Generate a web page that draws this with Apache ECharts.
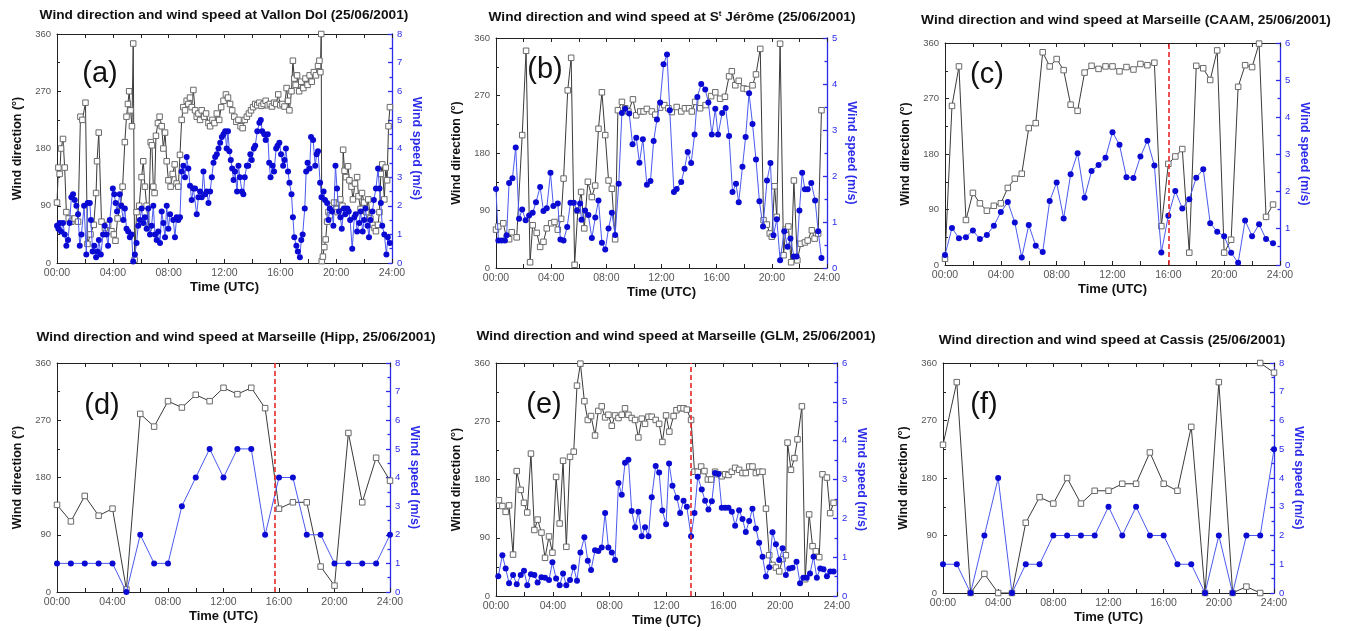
<!DOCTYPE html>
<html><head><meta charset="utf-8">
<script src="https://cdn.jsdelivr.net/npm/echarts@6/dist/echarts.min.js"></script>
<style>html,body{margin:0;padding:0;background:#fff}#c{width:1345px;height:631px}</style>
</head><body><div id="c"></div>
<script>
// ---------------- DATA (time in hours UTC, direction in degrees, speed in m/s) ----------------
const xTickLabels = ['00:00','04:00','08:00','12:00','16:00','20:00','24:00'];

const aDir = [[0,95],[0.1,150],[0.19,140],[0.29,180],[0.43,195],[0.55,150],[0.67,80],[0.84,70],[1.03,65],[1.27,70],[1.51,65],[1.68,230],[1.82,225],[2.04,252],[2.18,30],[2.4,45],[2.63,60],[2.8,110],[2.87,160],[2.99,205],[3.19,65],[3.43,55],[3.66,60],[3.9,50],[4.07,45],[4.19,35],[4.34,70],[4.55,90],[4.7,120],[4.86,190],[4.98,230],[5.08,250],[5.17,270],[5.27,240],[5.37,215],[5.46,345],[5.56,5],[5.7,80],[5.89,90],[6.06,135],[6.18,160],[6.3,120],[6.42,90],[6.56,55],[6.71,190],[6.8,185],[6.9,120],[6.99,110],[7.09,200],[7.23,220],[7.35,230],[7.5,215],[7.62,180],[7.74,205],[7.86,160],[7.98,130],[8.14,120],[8.29,140],[8.43,155],[8.57,125],[8.69,120],[8.81,170],[8.93,225],[9.05,245],[9.17,240],[9.29,255],[9.41,250],[9.53,260],[9.65,245],[9.77,272],[9.89,240],[10.01,230],[10.13,235],[10.25,225],[10.37,240],[10.54,230],[10.68,235],[10.85,220],[10.97,215],[11.14,225],[11.28,220],[11.45,235],[11.62,225],[11.76,245],[11.93,255],[12.1,265],[12.25,260],[12.4,250],[12.55,240],[12.7,230],[12.85,222],[13.0,225],[13.15,215],[13.3,212],[13.45,225],[13.6,230],[13.75,235],[13.9,240],[14.05,245],[14.2,250],[14.35,248],[14.5,252],[14.65,247],[14.8,250],[14.95,255],[15.1,248],[15.25,250],[15.4,246],[15.55,252],[15.7,250],[15.85,265],[16.0,248],[16.15,250],[16.3,246],[16.45,275],[16.55,255],[16.65,240],[16.8,270],[16.9,318],[17.0,290],[17.1,280],[17.2,295],[17.35,270],[17.5,285],[17.65,275],[17.8,290],[17.95,280],[18.1,295],[18.25,285],[18.4,300],[18.55,295],[18.7,310],[18.8,318],[18.87,300],[18.93,360],[18.97,3],[19.05,10],[19.15,25],[19.25,37],[19.35,65],[19.45,80],[19.55,75],[19.7,90],[19.85,95],[20.0,85],[20.1,80],[20.2,95],[20.3,100],[20.45,90],[20.5,178],[20.6,145],[20.7,135],[20.85,152],[20.95,130],[21.1,120],[21.2,100],[21.35,125],[21.5,135],[21.6,105],[21.75,85],[21.85,110],[22.0,95],[22.15,80],[22.3,100],[22.45,70],[22.6,60],[22.75,55],[22.85,50],[23.0,60],[23.1,80],[23.2,140],[23.3,155],[23.45,100],[23.55,150],[23.65,130],[23.75,215],[23.85,245]];
const aSpd = [[0,1.3],[0.1,1.2],[0.19,1.4],[0.29,1.1],[0.43,1.4],[0.55,1.0],[0.67,0.6],[0.79,0.8],[0.9,1.4],[1.03,2.3],[1.15,2.4],[1.27,2.2],[1.39,2.0],[1.51,1.7],[1.63,0.6],[1.75,1.0],[1.94,2.0],[2.1,0.3],[2.2,2.1],[2.35,2.1],[2.43,1.5],[2.55,0.4],[2.67,0.6],[2.8,0.2],[2.9,0.4],[3.0,0.8],[3.14,0.3],[3.3,1.0],[3.42,1.3],[3.54,1.0],[3.66,0.6],[3.78,1.5],[4.0,2.6],[4.1,2.4],[4.2,2.1],[4.3,1.8],[4.5,2.4],[4.6,2.0],[4.75,1.5],[4.86,1.9],[4.98,1.2],[5.1,1.1],[5.22,0.9],[5.34,1.0],[5.46,0.05],[5.58,0.3],[5.7,0.7],[5.82,1.3],[5.94,1.5],[6.06,1.9],[6.18,1.4],[6.3,1.6],[6.42,1.2],[6.54,1.9],[6.66,1.0],[6.78,1.3],[6.9,2.0],[7.02,1.0],[7.14,0.8],[7.26,1.1],[7.38,0.7],[7.5,1.8],[7.62,1.4],[7.74,0.9],[7.86,2.0],[7.98,1.2],[8.1,1.7],[8.33,1.5],[8.45,0.9],[8.57,1.6],[8.69,1.5],[8.81,1.6],[8.93,3.2],[9.05,3.4],[9.17,3.0],[9.29,3.7],[9.41,3.3],[9.53,2.7],[9.65,2.2],[9.77,2.6],[9.89,2.6],[10.01,1.7],[10.13,2.3],[10.25,2.5],[10.37,2.3],[10.49,3.2],[10.61,2.4],[10.73,2.5],[10.85,2.1],[10.97,2.5],[11.09,3.0],[11.21,3.5],[11.33,3.7],[11.45,3.8],[11.57,4.0],[11.69,4.2],[11.81,4.4],[11.93,4.5],[12.05,4.6],[12.15,4.0],[12.25,4.6],[12.35,3.9],[12.45,3.6],[12.55,3.3],[12.65,2.9],[12.75,3.2],[12.9,2.5],[13.0,3.4],[13.1,3.0],[13.25,2.5],[13.35,2.4],[13.45,3.0],[13.6,3.4],[13.7,3.4],[13.85,3.8],[13.95,3.6],[14.1,4.0],[14.2,4.1],[14.35,4.6],[14.5,4.9],[14.6,5.0],[14.7,4.6],[14.85,4.5],[14.95,4.3],[15.1,4.5],[15.2,3.5],[15.3,3.0],[15.45,3.4],[15.55,3.2],[15.7,4.0],[15.8,4.1],[15.93,4.2],[16.05,3.8],[16.2,3.4],[16.3,3.6],[16.4,4.0],[16.55,3.2],[16.65,2.8],[16.8,2.4],[16.9,1.6],[17.0,0.9],[17.15,0.6],[17.25,0.4],[17.4,0.2],[17.5,0.8],[17.6,1.0],[17.75,1.9],[17.85,3.2],[17.95,3.5],[18.1,3.3],[18.2,4.4],[18.35,4.3],[18.5,3.4],[18.6,3.8],[18.7,3.9],[18.85,2.8],[18.95,2.3],[19.1,2.5],[19.2,2.2],[19.35,2.1],[19.45,1.5],[19.55,1.9],[19.7,1.8],[19.8,1.3],[19.95,3.4],[20.06,2.6],[20.2,1.8],[20.3,1.6],[20.4,1.2],[20.55,1.9],[20.65,1.7],[20.8,1.9],[20.9,1.8],[21.0,1.5],[21.15,0.5],[21.3,1.6],[21.4,1.7],[21.5,1.1],[21.65,1.4],[21.75,1.8],[21.9,1.1],[22.0,1.5],[22.1,1.9],[22.25,1.3],[22.35,0.9],[22.45,1.5],[22.6,1.8],[22.7,2.2],[22.85,2.6],[23.0,3.3],[23.1,2.6],[23.2,2.1],[23.3,1.3],[23.45,1.0],[23.6,0.3],[23.7,0.9],[23.85,0.7]];

const bDir = [[0,60],[0.17,65],[0.53,70],[0.77,46],[0.95,45],[1.14,56],[1.5,48],[1.9,208],[2.18,340],[2.47,9],[2.66,67],[2.95,55],[3.2,33],[3.44,41],[3.68,62],[4.0,70],[4.24,72],[4.48,60],[4.72,77],[4.9,140],[5.2,278],[5.45,329],[5.7,5],[5.93,90],[6.17,119],[6.4,62],[6.66,135],[6.95,111],[7.19,129],[7.43,218],[7.68,275],[7.92,208],[8.16,137],[8.4,124],[8.64,45],[8.84,247],[9.13,260],[9.37,250],[9.6,245],[9.93,264],[10.17,239],[10.46,245],[10.7,245],[10.94,249],[11.3,245],[11.55,240],[11.9,251],[12.2,255],[12.5,250],[12.75,244],[13.1,252],[13.43,245],[13.7,250],[14.0,250],[14.2,245],[14.44,260],[14.8,250],[15.2,255],[15.6,269],[15.9,275],[16.25,265],[16.6,268],[16.9,300],[17.1,308],[17.35,286],[17.6,293],[17.95,281],[18.2,280],[18.6,286],[18.85,303],[19.16,343],[19.4,75],[19.64,68],[19.85,54],[20.0,49],[20.2,128],[20.36,80],[20.6,351],[20.85,20],[21.0,60],[21.2,65],[21.4,9],[21.6,137],[21.85,12],[22.1,38],[22.4,40],[22.6,43],[22.9,59],[23.1,46],[23.36,54],[23.6,247]];
const bSpd = [[0,1.72],[0.17,0.6],[0.4,0.6],[0.65,0.6],[0.77,0.71],[0.95,1.85],[1.19,1.95],[1.43,2.62],[1.67,1.07],[1.9,1.27],[2.15,1.04],[2.4,1.14],[2.66,1.2],[2.9,1.43],[3.2,1.76],[3.44,1.24],[3.68,1.3],[3.95,2.07],[4.16,1.35],[4.48,1.4],[4.67,0.62],[4.9,0.6],[5.16,0.89],[5.4,1.42],[5.64,1.42],[5.88,1.25],[6.1,1.4],[6.2,1.05],[6.46,1.25],[6.7,1.15],[6.95,0.65],[7.2,1.1],[7.43,1.47],[7.68,0.55],[7.92,0.4],[8.16,0.86],[8.4,1.2],[8.64,0.72],[8.9,1.83],[9.13,3.37],[9.37,3.46],[9.66,3.36],[9.9,2.69],[10.17,2.83],[10.4,2.29],[10.65,2.8],[10.94,1.81],[11.2,1.89],[11.43,2.76],[11.67,3.23],[11.9,3.6],[12.15,4.43],[12.4,4.64],[12.6,3.43],[12.9,1.65],[13.1,1.72],[13.43,1.87],[13.67,2.16],[13.9,2.52],[14.15,2.28],[14.4,2.9],[14.6,3.72],[14.88,4.0],[15.17,3.88],[15.4,3.6],[15.65,2.9],[15.9,3.46],[16.1,2.9],[16.4,3.37],[16.65,3.48],[16.9,2.87],[17.15,1.65],[17.4,1.83],[17.6,1.43],[17.87,2.2],[18.1,2.85],[18.35,3.8],[18.6,3.13],[18.85,2.36],[19.1,1.45],[19.36,0.9],[19.65,1.9],[19.9,2.28],[20.12,0.71],[20.36,1.06],[20.6,0.17],[20.9,0.8],[21.14,0.46],[21.35,0.64],[21.6,0.25],[21.8,0.25],[22.0,1.25],[22.2,2.07],[22.4,1.71],[22.6,1.71],[22.86,1.85],[23.14,1.47],[23.36,0.8],[23.6,0.22]];

const cTime = [0,0.5,1,1.5,2,2.5,3,3.5,4,4.5,5,5.5,6,6.5,7,7.5,8,8.5,9,9.5,10,10.5,11,11.5,12,12.5,13,13.5,14,14.5,15,15.5,16,16.5,17,17.5,18,18.5,19,19.5,20,20.5,21,21.5,22,22.5,23,23.5];
const cDirVals = [10,258,322,73,117,100,88,96,100,125,140,148,222,230,345,322,334,316,260,250,312,323,318,322,322,314,321,317,326,324,328,63,164,176,188,20,323,319,300,348,20,41,289,324,321,359,78,98];
const cSpdVals = [0.27,1.0,0.72,0.75,0.93,0.7,0.81,1.06,1.43,1.7,1.15,0.2,1.08,0.52,0.35,1.73,2.23,1.26,2.45,3.02,1.82,2.54,2.7,2.9,3.59,3.25,2.37,2.35,2.93,3.36,2.69,0.34,1.33,2.0,1.53,1.78,2.36,2.59,1.13,0.9,0.78,0.33,0.06,1.2,0.78,1.1,0.7,0.59];
const cDashTime = 16.0;

const dTime = [0,1,2,3,4,5,6,7,8,9,10,11,12,13,14,15,16,17,18,19,20,21,22,23,24];
const dDirVals = [137,111,151,120,131,4,280,260,300,290,310,300,321,311,321,289,131,141,141,40,10,250,141,211,175];
const dSpdVals = [1,1,1,1,1,0,2,1,1,3,4,5,4,5,5,2,4,4,2,2,1,1,1,1,2];
const dDashTime = 15.67;

const eDir = [[0.21,148],[0.45,139],[0.68,130],[0.92,140],[1.2,64],[1.46,193],[1.74,164],[1.97,144],[2.2,129],[2.46,220],[2.7,102],[2.93,118],[3.2,98],[3.45,59],[3.73,92],[3.97,67],[4.23,184],[4.48,112],[4.72,209],[4.95,76],[5.21,215],[5.47,223],[5.7,325],[5.94,359],[6.22,301],[6.46,272],[6.69,278],[6.97,248],[7.2,286],[7.44,293],[7.68,276],[7.91,280],[8.15,263],[8.38,279],[8.62,275],[8.85,280],[9.08,290],[9.32,280],[9.55,275],[9.79,272],[10.02,245],[10.26,274],[10.49,266],[10.73,277],[10.96,277],[11.24,272],[11.48,266],[11.71,238],[11.97,279],[12.2,254],[12.5,278],[12.7,287],[12.96,290],[13.2,290],[13.43,288],[13.73,272],[13.97,192],[14.2,192],[14.44,200],[14.67,193],[14.91,180],[15.14,180],[15.42,192],[15.66,188],[15.89,185],[16.13,188],[16.36,187],[16.6,192],[16.83,198],[17.11,195],[17.35,190],[17.58,190],[17.82,200],[18.05,200],[18.29,190],[18.52,192],[18.76,192],[19.0,135],[19.23,63],[19.46,48],[19.7,44],[19.93,38],[20.17,57],[20.4,63],[20.52,237],[20.76,195],[21.0,213],[21.22,242],[21.53,293],[21.76,26],[22.04,126],[22.28,77],[22.51,69],[22.75,60],[22.98,188],[23.29,183],[23.52,128],[23.76,144]];
const eSpd = [[0.16,0.51],[0.45,1.05],[0.68,0.71],[0.92,0.33],[1.2,0.54],[1.46,0.3],[1.74,0.54],[1.97,0.65],[2.2,0.28],[2.46,0.56],[2.7,0.54],[2.93,0.35],[3.2,0.48],[3.45,0.47],[3.73,0.41],[3.97,0.87],[4.23,0.45],[4.48,0.28],[4.72,0.58],[4.95,0.28],[5.21,0.41],[5.47,0.74],[5.7,0.39],[5.94,1.12],[6.22,1.51],[6.46,0.91],[6.69,0.67],[6.97,1.18],[7.2,1.16],[7.44,1.25],[7.68,2.14],[7.91,1.25],[8.15,1.12],[8.38,0.93],[8.62,2.91],[8.85,2.61],[9.08,3.43],[9.32,3.51],[9.55,2.19],[9.79,1.77],[10.02,2.17],[10.26,1.54],[10.49,1.77],[10.73,1.54],[10.96,2.54],[11.24,3.35],[11.48,3.18],[11.71,2.2],[11.97,1.85],[12.18,3.41],[12.42,2.84],[12.73,2.53],[12.96,2.14],[13.2,2.45],[13.43,2.3],[13.73,1.54],[13.97,2.14],[14.2,3.07],[14.48,2.74],[14.72,2.45],[14.95,2.23],[15.19,2.44],[15.42,3.17],[15.66,3.14],[15.89,2.27],[16.13,2.27],[16.36,2.27],[16.6,2.17],[16.83,1.81],[17.11,2.21],[17.35,1.98],[17.58,1.65],[17.82,1.93],[18.05,2.25],[18.29,1.74],[18.52,1.37],[18.76,1.01],[19.0,0.5],[19.23,0.74],[19.46,1.64],[19.7,1.33],[19.93,0.93],[20.17,1.23],[20.4,0.54],[20.64,0.71],[20.87,0.73],[21.15,0.88],[21.4,0.33],[21.63,0.47],[21.87,0.47],[22.1,0.58],[22.35,1.01],[22.58,0.47],[22.82,0.71],[23.05,0.69],[23.29,0.51],[23.52,0.63],[23.76,0.63]];
const eDashTime = 13.73;

const fTime = [0,1,2,3,4,5,6,7,8,9,10,11,12,13,14,15,16,17,18,19,20,21,22,23];
const fDirVals = [232,330,0,30,0,0,110,150,140,180,140,160,160,171,171,220,171,160,260,0,330,0,10,0];
const fDirWrapTime = [23,24];
const fDirWrapVals = [360,345];
const fSpdTime = [0,1,2,3,4,5,6,7,8,9,10,11,12,13,14,15,16,17,18,19,20,21,22,23,24];
const fSpdVals = [1,1,0,2,4,0,1,1,2,2,2,2,3,2,3,2,2,1,1,0,2,0,2,2,5];

// ---------------- LAYOUT ----------------
const zip = (t, v) => t.map((x, i) => [x, v[i]]);
const FONT = "'Liberation Sans', Arial, sans-serif";
const BLUE_AX = '#2b2bea';

const panels = [
  {title:'Wind direction and wind speed at Vallon Dol (25/06/2001)', tx:224, ty:15, tag:'(a)', lx:100, ly:74,
   g:[57,34,392,263], spdMax:8, dir:aDir, spd:aSpd},
  {title:'Wind direction and wind speed at S{s|t} Jérôme (25/06/2001)', tx:672, ty:17, tag:'(b)', lx:545, ly:70,
   g:[496,38,827,268], spdMax:5, dir:bDir, spd:bSpd},
  {title:'Wind direction and wind speed at Marseille (CAAM, 25/06/2001)', tx:1126, ty:20, tag:'(c)', lx:987, ly:75,
   g:[945,43,1280,265], spdMax:6, dir:zip(cTime,cDirVals), spd:zip(cTime,cSpdVals), dash:cDashTime},
  {title:'Wind direction and wind speed at Marseille (Hipp, 25/06/2001)', tx:236, ty:337, tag:'(d)', lx:102, ly:406,
   g:[57,363,390,592], spdMax:8, dir:zip(dTime,dDirVals), spd:zip(dTime,dSpdVals), dash:dDashTime},
  {title:'Wind direction and wind speed at Marseille (GLM, 25/06/2001)', tx:676, ty:336, tag:'(e)', lx:544, ly:405,
   g:[496,363,837,596], spdMax:6, dir:eDir, spd:eSpd, dash:eDashTime},
  {title:'Wind direction and wind speed at Cassis (25/06/2001)', tx:1112, ty:340, tag:'(f)', lx:984, ly:405,
   g:[943,363,1274,593], spdMax:8, dir:zip(fTime,fDirVals), spd:zip(fSpdTime,fSpdVals), dir2:zip(fDirWrapTime,fDirWrapVals)}
];

const option = {animation:false, backgroundColor:'#ffffff', grid:[], xAxis:[], yAxis:[], series:[], graphic:[]};
const hourFmt = v => xTickLabels[v/4] || '';

panels.forEach((p, i) => {
  const [L,T,R,B] = p.g;
  option.grid.push({left:L, top:T, width:R-L, height:B-T, containLabel:false, outerBoundsMode:'none', show:false});
  const blk = {color:'#222', width:1};
  const xBase = {gridIndex:i, type:'value', min:0, max:24, interval:4,
    axisLine:{show:true, onZero:false, lineStyle:blk},
    axisTick:{show:true, inside:true, length:4, lineStyle:blk},
    minorTick:{show:true, splitNumber:2, length:4, lineStyle:blk},
    splitLine:{show:false}, minorSplitLine:{show:false}};
  option.xAxis.push(Object.assign({}, xBase, {position:'bottom',
    axisLabel:{show:true, formatter:hourFmt, fontSize:10.5, color:'#555', margin:5, fontFamily:FONT},
    name:'Time (UTC)', nameLocation:'middle', nameGap:18, nameMoveOverlap:false,
    nameTextStyle:{fontSize:13, fontWeight:'bold', color:'#111', fontFamily:FONT}}));
  option.xAxis.push(Object.assign({}, xBase, {position:'top', axisLabel:{show:false}}));
  option.yAxis.push({gridIndex:i, type:'value', position:'left', min:0, max:360, interval:90,
    axisLine:{show:true, onZero:false, lineStyle:blk},
    axisTick:{show:true, inside:true, length:4, lineStyle:blk},
    minorTick:{show:true, splitNumber:2, length:3, lineStyle:blk},
    splitLine:{show:false}, minorSplitLine:{show:false},
    axisLabel:{fontSize:9.5, color:'#555', margin:6, fontFamily:FONT},
    name:'Wind direction (°)', nameLocation:'middle', nameGap:33, nameRotate:90, nameMoveOverlap:false,
    nameTextStyle:{fontSize:12.5, fontWeight:'bold', color:'#111', fontFamily:FONT}});
  const bl = {color:BLUE_AX, width:1.3};
  option.yAxis.push({gridIndex:i, type:'value', position:'right', min:0, max:p.spdMax, interval:1,
    axisLine:{show:true, onZero:false, lineStyle:bl},
    axisTick:{show:true, inside:true, length:4, lineStyle:bl},
    minorTick:{show:true, splitNumber:2, length:2.5, lineStyle:bl},
    splitLine:{show:false}, minorSplitLine:{show:false},
    axisLabel:{fontSize:9.5, color:BLUE_AX, margin:5, fontFamily:FONT},
    name:'Wind speed (m/s)', nameLocation:'middle', nameGap:18, nameRotate:-90, nameMoveOverlap:false,
    nameTextStyle:{fontSize:12.5, fontWeight:'bold', color:BLUE_AX, fontFamily:FONT}});

  const dirStyle = {type:'line', xAxisIndex:2*i, yAxisIndex:2*i, symbol:'rect', symbolSize:5.5, showAllSymbol:true,
    lineStyle:{color:'#3a3a3a', width:1}, itemStyle:{color:'#ffffff', borderColor:'#6a6a6a', borderWidth:1},
    emphasis:{disabled:true}, z:2};
  const dirSeries = Object.assign({}, dirStyle, {name:'dir'+i, data:p.dir});
  if (p.dash !== undefined) {
    dirSeries.markLine = {silent:true, symbol:['none','none'], label:{show:false},
      lineStyle:{color:'#e8262a', type:[5,3], width:1.6}, data:[{xAxis:p.dash}]};
  }
  option.series.push(dirSeries);
  if (p.dir2) option.series.push(Object.assign({}, dirStyle, {name:'dir2'+i, data:p.dir2}));
  option.series.push({type:'line', name:'spd'+i, xAxisIndex:2*i, yAxisIndex:2*i+1, data:p.spd,
    symbol:'circle', symbolSize:6, showAllSymbol:true,
    lineStyle:{color:'#4a5af0', width:1}, itemStyle:{color:'#0a0ad2', borderWidth:0},
    emphasis:{disabled:true}, z:3});

  option.graphic.push({type:'text', x:p.tx, y:p.ty, silent:true,
    style:{text:p.title, textAlign:'center', textVerticalAlign:'middle', fill:'#111',
      font:'bold 13.7px ' + FONT,
      rich:{s:{fontSize:8, fontWeight:'bold', fontFamily:FONT, verticalAlign:'top', fill:'#111'}}}});
  option.graphic.push({type:'text', x:p.lx, y:p.ly, silent:true,
    style:{text:p.tag, textAlign:'center', textVerticalAlign:'middle', fill:'#111', font:'29px ' + FONT}});
});

const chart = echarts.init(document.getElementById('c'), null, {renderer:'canvas'});
chart.setOption(option);
</script></body></html>
